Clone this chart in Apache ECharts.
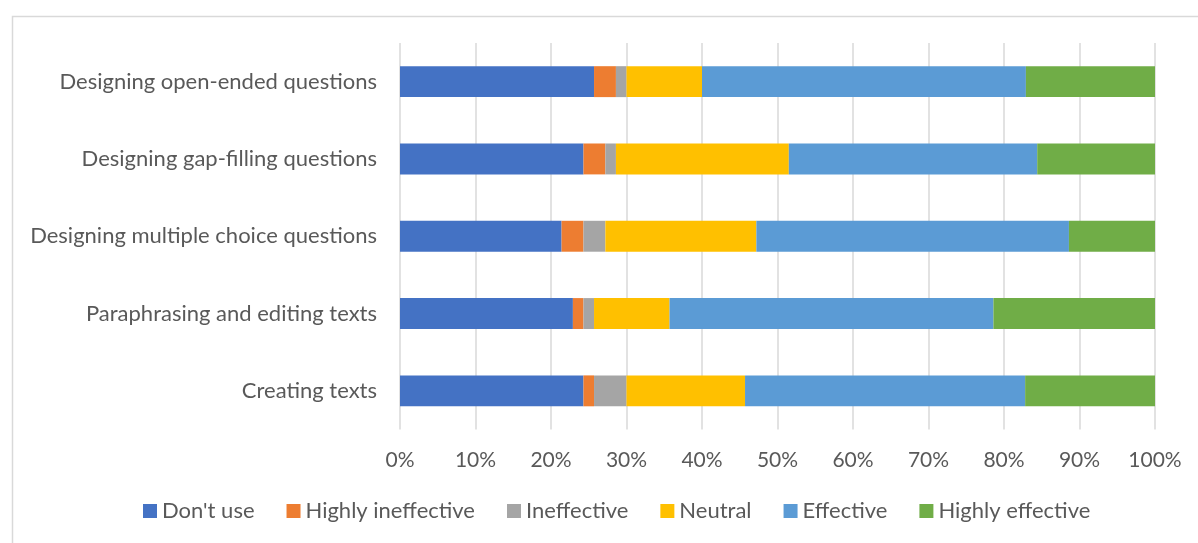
<!DOCTYPE html>
<html>
<head>
<meta charset="utf-8">
<script src="https://cdn.jsdelivr.net/npm/echarts@6/dist/echarts.min.js"></script>
<style>
  html, body { margin: 0; padding: 0; background: #fff; }
  #chart { width: 1198px; height: 543px; }
</style>
</head>
<body>
<div id="chart"></div>
<script>
// Tasks, listed top to bottom
const tasks = [
  'Designing open-ended questions',
  'Designing gap-filling questions',
  'Designing multiple choice questions',
  'Paraphrasing and editing texts',
  'Creating texts'
];

// Share of respondents (%) per rating, one value per task
const dontUse            = [25.7, 24.3, 21.4, 22.9, 24.3];
const highlyIneffective  = [2.9, 2.9, 2.9, 1.4, 1.4];
const ineffective        = [1.4, 1.4, 2.9, 1.4, 4.3];
const neutral            = [10.0, 22.9, 20.0, 10.0, 15.7];
const effective          = [42.9, 32.9, 41.4, 42.9, 37.1];
const highlyEffective    = [17.1, 15.6, 11.4, 21.4, 17.2];

const percentTicks = ['0%', '10%', '20%', '30%', '40%', '50%', '60%', '70%', '80%', '90%', '100%'];

const ratingNames  = ["Don't use", 'Highly ineffective', 'Ineffective', 'Neutral', 'Effective', 'Highly effective'];
const ratingValues = [dontUse, highlyIneffective, ineffective, neutral, effective, highlyEffective];
const ratingColors = ['#4472C4', '#ED7D31', '#A5A5A5', '#FFC000', '#5B9BD5', '#70AD47'];

const FONT = 'Lato';
const TEXT = '#595959';

const chart = echarts.init(document.getElementById('chart'), null, { renderer: 'canvas' });

chart.setOption({
  animation: false,
  backgroundColor: '#ffffff',
  textStyle: { fontFamily: FONT },
  graphic: [{
    type: 'rect',
    left: 10, top: 14,
    shape: { width: 1200, height: 540 },
    style: { fill: 'none', stroke: '#D9D9D9', lineWidth: 1.5 },
    silent: true
  }],
  grid: { left: 400, right: 43, top: 43, bottom: 113.5, containLabel: false },
  legend: {
    left: 143,
    top: 500,
    padding: 0,
    itemWidth: 14,
    itemHeight: 14,
    itemGap: 32,
    icon: 'rect',
    textStyle: { fontFamily: FONT, fontSize: 22, color: TEXT },
    data: ratingNames
  },
  xAxis: {
    type: 'value',
    min: 0, max: 100, interval: 10,
    axisLine: { show: false },
    axisTick: { show: false },
    splitLine: { show: true, lineStyle: { color: '#D9D9D9', width: 1.5 } },
    axisLabel: {
      margin: 20,
      fontFamily: FONT, fontSize: 21, color: TEXT,
      formatter: (v) => percentTicks[Math.round(v / 10)]
    }
  },
  yAxis: {
    type: 'category',
    inverse: true,
    data: tasks,
    axisLine: { show: false },
    axisTick: { show: false },
    axisLabel: { margin: 23, fontFamily: FONT, fontSize: 22, color: TEXT }
  },
  series: ratingNames.map((name, i) => ({
    name,
    type: 'bar',
    stack: 'rating',
    barCategoryGap: '60%',
    itemStyle: { color: ratingColors[i] },
    data: ratingValues[i]
  }))
});
</script>
</body>
</html>
